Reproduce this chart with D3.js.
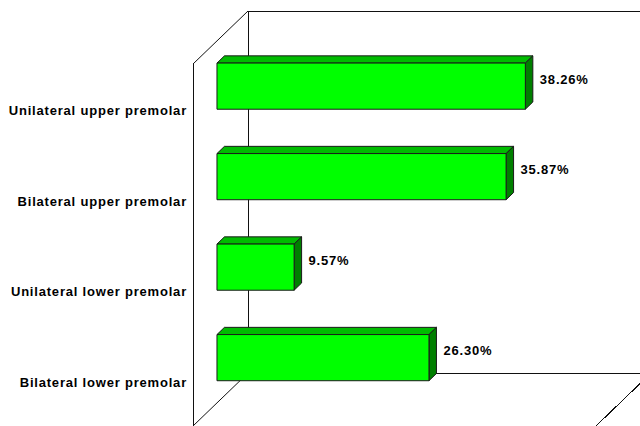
<!DOCTYPE html>
<html>
<head>
<meta charset="utf-8">
<script src="https://cdn.jsdelivr.net/npm/d3@7"></script>
<style>
  html, body { margin: 0; padding: 0; background: #fff; }
  svg { display: block; }
  text { font-family: "Liberation Sans", Arial, sans-serif; font-weight: bold; fill: #000; }
</style>
</head>
<body>
<svg id="chart" width="640" height="426"></svg>
<script>
// Categories, top to bottom
const categories = [
  "Unilateral upper premolar",
  "Bilateral upper premolar",
  "Unilateral lower premolar",
  "Bilateral lower premolar"
];
// Share of cases, percent
const values = [38.26, 35.87, 9.57, 26.30];
const valueLabels = ["38.26%", "35.87%", "9.57%", "26.30%"];
const valueDomain = [0, 50];

const svg = d3.select("#chart");

// Front-left-top corner of the plot box and its size on the front plane
const ox = 193, oy = 64;
const W = 403, H = 362;
// Depth vector of the 3D box (front -> back)
const depthX = 55, depthY = -53;

const x = d3.scaleLinear().domain(valueDomain).range([0, W]);
const y = d3.scaleBand().domain(categories).range([0, H])
  .paddingInner(0.49).paddingOuter(0.245);

// Project a point (value-axis offset, category-axis offset, depth 0..1)
function P(px, py, d) {
  return [ox + px + depthX * d, oy + py + depthY * d];
}
const line = d3.line();

// Walls and floor
const walls = svg.append("g")
  .attr("fill", "none").attr("stroke", "#111").attr("stroke-width", 1)
  .attr("shape-rendering", "crispEdges");
const wallSegs = [
  [P(0, 0, 1), P(0, H, 1)],     // back wall left edge
  [P(0, 0, 1), P(W, 0, 1)],     // back wall top edge
  [P(0, H, 1), P(W, H, 1)],     // floor back edge
  [P(0, 0, 0), P(0, H, 0)],     // side wall front edge
  [P(W, H, 0), P(W, H, 1)]      // floor right edge
];
wallSegs.forEach(s => walls.append("path").attr("d", line(s)));
const diag = svg.append("g")
  .attr("fill", "none").attr("stroke", "#111").attr("stroke-width", 1);
[
  [P(0, 0, 0), P(0, 0, 1)],     // side wall top edge
  [P(0, H, 0), P(0, H, 1)]      // side wall bottom edge
].forEach(s => diag.append("path").attr("d", line(s)));

// Bars sit partway into the depth of the box
const d0 = 0.436, d1 = 0.572;
const bars = svg.append("g").attr("stroke", "#1a1a1a").attr("stroke-width", 1)
  .attr("stroke-linejoin", "round");

categories.forEach((c, i) => {
  const v = values[i];
  const y0 = y(c), y1 = y(c) + y.bandwidth();
  const x0 = x(0), x1 = x(v);
  const g = bars.append("g");
  // top face
  g.append("path").attr("fill", "#00bb00")
    .attr("d", line([P(x0, y0, d0), P(x1, y0, d0), P(x1, y0, d1), P(x0, y0, d1)]) + "Z");
  // right face
  g.append("path").attr("fill", "#007f00")
    .attr("d", line([P(x1, y0, d0), P(x1, y1, d0), P(x1, y1, d1), P(x1, y0, d1)]) + "Z");
  // front face
  g.append("path").attr("fill", "#00ff00")
    .attr("d", line([P(x0, y0, d0), P(x1, y0, d0), P(x1, y1, d0), P(x0, y1, d0)]) + "Z");

  // value label
  const lp = P(x1, (y0 + y1) / 2, d1);
  svg.append("text")
    .attr("x", lp[0] + 7).attr("y", lp[1] + 0.5)
    .attr("dominant-baseline", "central")
    .attr("font-size", 13).attr("letter-spacing", 0.8)
    .text(valueLabels[i]);
});

// Category labels along the front of the side wall
categories.forEach(c => {
  const p = P(0, y(c) + y.bandwidth() / 2, 0);
  svg.append("text")
    .attr("x", p[0] - 6).attr("y", p[1] + 1.5)
    .attr("text-anchor", "end")
    .attr("dominant-baseline", "central")
    .attr("font-size", 13).attr("letter-spacing", 0.8)
    .text(c);
});
</script>
</body>
</html>
